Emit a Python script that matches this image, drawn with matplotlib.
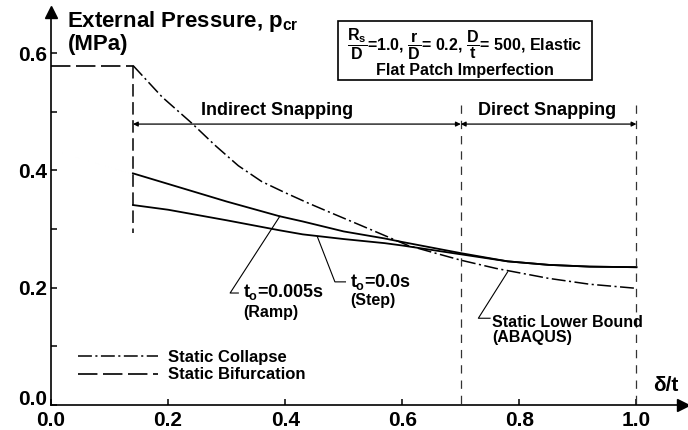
import matplotlib
matplotlib.use("Agg")
import matplotlib.pyplot as plt
from matplotlib.patches import Rectangle
from matplotlib.ticker import MultipleLocator

plt.rcParams["font.family"] = ["Liberation Sans", "DejaVu Sans"]
plt.rcParams["font.weight"] = "bold"
plt.rcParams["mathtext.fontset"] = "custom"
plt.rcParams["mathtext.rm"] = "Liberation Sans:bold"
plt.rcParams["mathtext.it"] = "Liberation Sans:bold"
plt.rcParams["mathtext.bf"] = "Liberation Sans:bold"
plt.rcParams["lines.scale_dashes"] = False

# Normalised imperfection depth delta/t
x_curve = [0.14, 0.2, 0.3, 0.39, 0.43, 0.5, 0.57, 0.6, 0.7, 0.78, 0.85, 0.92, 1.0]
# Dynamic buckling pressures (MPa)
p_ramp = [0.395, 0.377, 0.347, 0.322, 0.313, 0.296, 0.284, 0.278, 0.259, 0.245, 0.239, 0.236, 0.235]
p_step = [0.341, 0.333, 0.315, 0.298, 0.291, 0.283, 0.276, 0.272, 0.257, 0.245, 0.239, 0.236, 0.235]
# Static collapse (lower bound, ABAQUS)
x_collapse = [0.14, 0.19, 0.24, 0.28, 0.32, 0.36, 0.40, 0.44, 0.48, 0.53,
              0.57, 0.61, 0.66, 0.70, 0.76, 0.85, 0.92, 1.0]
p_collapse = [0.579, 0.525, 0.481, 0.443, 0.408, 0.381, 0.362, 0.344, 0.327, 0.306,
              0.289, 0.272, 0.258, 0.247, 0.233, 0.216, 0.206, 0.199]
# Static bifurcation
x_bif = [0.0, 0.14]
p_bif = [0.578, 0.578]

# Regime boundaries
x_bounds = [0.14, 0.7, 1.0]
regime_labels = ["Indirect Snapping", "Direct Snapping"]

fig = plt.figure(figsize=(6.88, 4.3), dpi=100)
ax = fig.add_axes([0.0741, 0.058, 0.919, 0.914])
ax.set_xlim(0, 1.08)
ax.set_ylim(0, 0.67)

# curves
ax.plot(x_curve, p_ramp, color="black", lw=1.3)
ax.plot(x_curve, p_step, color="black", lw=1.3)
coll, = ax.plot(x_collapse, p_collapse, color="black", lw=1.1,
                dashes=(10, 2.5, 1.5, 2.5), label="Static Collapse")
bif, = ax.plot(x_bif, p_bif, color="black", lw=1.2, dashes=(14, 4),
               label="Static Bifurcation")
ax.plot([x_bounds[0], x_bounds[0]], [p_bif[-1], 0.293], color="black",
        lw=1.1, dashes=(9, 4))
for xb in x_bounds[1:]:
    ax.plot([xb, xb], [0.511, 0], color="#333333", lw=0.9, dashes=(6, 5))

# regime arrows
y_arr = 0.479
for (x0, x1), lab in zip(zip(x_bounds[:-1], x_bounds[1:]), regime_labels):
    ax.annotate("", xy=(x0, y_arr), xytext=(x1, y_arr),
                arrowprops=dict(arrowstyle="<|-|>", color="black", lw=0.9,
                                mutation_scale=7, shrinkA=0, shrinkB=0))
ax.text(0.386, 0.503, regime_labels[0], fontsize=13, ha="center", va="center")
ax.text(0.848, 0.503, regime_labels[1], fontsize=13, ha="center", va="center")

# leader lines and annotations
ax.plot([0.391, 0.306, 0.320], [0.322, 0.191, 0.191], color="black", lw=0.8)
ax.text(0.328, 0.193, r"$t_o$=0.005s", fontsize=13, va="center")
ax.text(0.328, 0.157, "(Ramp)", fontsize=11.5, va="center")
ax.plot([0.455, 0.485, 0.503], [0.287, 0.210, 0.210], color="black", lw=0.8)
ax.text(0.511, 0.210, r"$t_o$=0.0s", fontsize=13, va="center")
ax.text(0.511, 0.179, "(Step)", fontsize=11.5, va="center")
ax.plot([0.78, 0.730, 0.750], [0.227, 0.148, 0.148], color="black", lw=0.8)
ax.text(0.754, 0.140, "Static Lower Bound", fontsize=11.5, va="center")
ax.text(0.754, 0.116, "(ABAQUS)", fontsize=11.5, va="center")

# legend
ax.legend(handles=[coll, bif], loc="lower left", bbox_to_anchor=(0.025, 0.028),
          frameon=False, fontsize=12, handlelength=4.8, handletextpad=0.55,
          labelspacing=0.15, borderpad=0.2)

# axes styling
for side in ["top", "right"]:
    ax.spines[side].set_visible(False)
for side in ["left", "bottom"]:
    ax.spines[side].set_linewidth(1.2)
ax.plot(1, 0, ">", color="black", ms=9, transform=ax.transAxes, clip_on=False)
ax.plot(0, 1, "^", color="black", ms=9, transform=ax.transAxes, clip_on=False)
ax.yaxis.set_minor_locator(MultipleLocator(0.1))
ax.tick_params(which="both", direction="in", length=4, width=1.1,
               labelsize=15, pad=3)
ax.tick_params(axis="x", pad=4)
ax.set_xticks([0.0, 0.2, 0.4, 0.6, 0.8, 1.0])
ax.set_xticklabels(["0.0", "0.2", "0.4", "0.6", "0.8", "1.0"])
ax.set_yticks([0.0, 0.2, 0.4, 0.6])
ax.set_yticklabels(["0.0", "0.2", "0.4", "0.6"])
ax.get_yticklabels()[0].set_verticalalignment("baseline")

# axis titles
fig.text(0.097, 0.937, r"External Pressure, $p_{cr}$", fontsize=16, va="baseline")
fig.text(0.099, 0.884, "(MPa)", fontsize=16, va="baseline")
ax.text(1.051, 0.034, "δ/t", fontsize=15, ha="center", va="center")

# parameter box
fig.patches.append(Rectangle((0.491, 0.814), 0.369, 0.137, transform=fig.transFigure,
                             fill=False, edgecolor="black", lw=1.2))
fig.text(0.676, 0.897,
         r"$\dfrac{R_s}{D}$=1.0, $\dfrac{r}{D}$= 0.2, $\dfrac{D}{t}$= 500, Elastic",
         fontsize=11.5, ha="center", va="center")
fig.text(0.676, 0.837, "Flat Patch Imperfection", fontsize=11.5, ha="center", va="center")

fig.savefig("out.png", dpi=100)
